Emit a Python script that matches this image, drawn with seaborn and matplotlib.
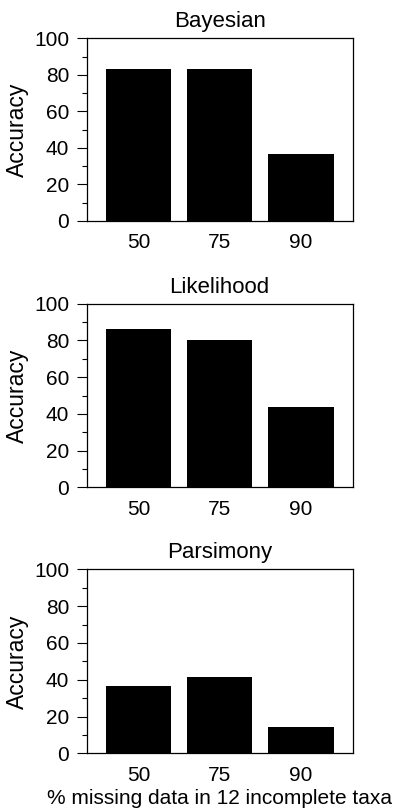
import matplotlib
matplotlib.use("Agg")
import matplotlib.pyplot as plt
import seaborn as sns
import pandas as pd
from matplotlib.ticker import MultipleLocator

sns.set_theme(style="ticks")
plt.rcParams['font.family'] = ['Liberation Sans', 'DejaVu Sans']

missing = ["50", "75", "90"]
methods = ["Bayesian", "Likelihood", "Parsimony"]
bayesian = [83, 83, 36.5]
likelihood = [86.4, 80, 44]
parsimony = [36.7, 41.5, 14.5]
values = [bayesian, likelihood, parsimony]

fig = plt.figure(figsize=(3.94, 8.11), dpi=100)
left, width = 0.220, 0.675
bottoms = [0.7275, 0.3991, 0.0711]
heights = [0.2253, 0.2264, 0.2269]

for i, (name, vals) in enumerate(zip(methods, values)):
    ax = fig.add_axes([left, bottoms[i], width, heights[i]])
    df = pd.DataFrame({"missing": missing, "acc": vals})
    sns.barplot(data=df, x="missing", y="acc", color="black", saturation=1,
                width=0.81, ax=ax, edgecolor="black", linewidth=0)
    ax.set_xlim(-0.64, 2.64)
    ax.set_ylim(0, 100)
    ax.yaxis.set_major_locator(MultipleLocator(20))
    ax.yaxis.set_minor_locator(MultipleLocator(10))
    ax.tick_params(axis="y", which="major", length=7.5, width=0.8, color="black",
                   labelsize=15, pad=5, labelcolor="black")
    ax.tick_params(axis="y", which="minor", length=3.6, width=0.8, color="black")
    ax.tick_params(axis="x", length=0, labelsize=15, pad=9, labelcolor="black")
    for sp in ax.spines.values():
        sp.set_visible(True)
        sp.set_color("black")
        sp.set_linewidth(0.9)
    ax.set_title(name, fontsize=16, pad=8, color="black")
    ax.set_ylabel("Accuracy", fontsize=16.5, labelpad=4, color="black")
    if i == 2:
        ax.set_xlabel("% missing data in 12 incomplete taxa", fontsize=15,
                      labelpad=3, color="black")
    else:
        ax.set_xlabel("")

fig.savefig("out.png", dpi=100, facecolor="white")
